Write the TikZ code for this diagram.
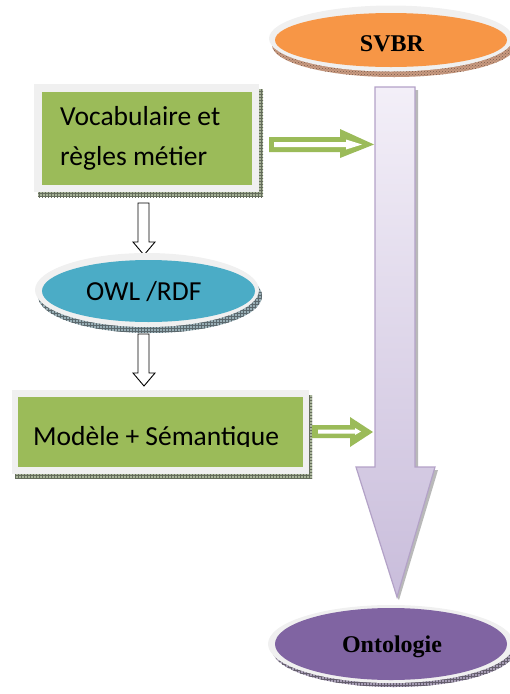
\documentclass[tikz,border=0pt]{standalone}
\usepackage{fontspec}
\setmainfont{Liberation Serif}
\newfontfamily\boxfont{Carlito}
\usetikzlibrary{shapes.geometric,patterns}

\definecolor{leafgreen}{HTML}{9BBB59}
\definecolor{orangefill}{HTML}{F79646}
\definecolor{tealfill}{HTML}{4BACC6}
\definecolor{plumfill}{HTML}{8064A2}
\definecolor{framegray}{HTML}{F0F0F0}
\definecolor{lilacline}{HTML}{B3A2C7}
\definecolor{lilactop}{HTML}{F3EFF8}
\definecolor{lilacbot}{HTML}{C9BDDB}
\definecolor{shadowgreen}{HTML}{A9B59A}
\definecolor{shadowbrown}{HTML}{C99A80}
\definecolor{shadowblue}{HTML}{98AEB5}
\definecolor{shadowplum}{HTML}{A79DB5}

\tikzset{
  frame/.style={fill=framegray},
  boxtext/.style={font=\boxfont\fontsize{27.5}{40}\selectfont, inner sep=0pt, anchor=base west},
  titletext/.style={font=\fontsize{24}{28}\selectfont\bfseries, inner sep=0pt, anchor=base},
  hollowarrow/.style={draw=black, fill=white, line width=0.9pt, line join=miter},
  greenarrow/.style={fill=leafgreen},
  stripe/.style={fill=white},
}

\begin{document}
\begin{tikzpicture}[x=1pt,y=-1pt]
\useasboundingbox (0,0) rectangle (510,694);

% ---- main flow: large lilac arrow (drawn first, behind everything)
\fill[gray!55] (378,90) -- (418,90) -- (418,470) -- (438,470) -- (399,600) -- (397,597) -- (435,467) -- (415,467) -- (415,87) -- cycle;
\path[draw=lilacline, line width=1.2pt, top color=lilactop, bottom color=lilacbot]
  (375,87) -- (415,87) -- (415,467) -- (435,467) -- (397,597) -- (356,467) -- (375,467) -- cycle;
\coordinate (flowtop) at (395,87);
\coordinate (flowtip) at (397,597);

% ---- SVBR ellipse
\fill[shadowbrown] (394,45) ellipse [x radius=122pt, y radius=32pt];
\fill[pattern=crosshatch dots, pattern color=shadowbrown!60!black] (394,45) ellipse [x radius=122pt, y radius=32pt];
\fill[frame] (391,38.5) ellipse [x radius=122pt, y radius=33pt];
\node[ellipse, fill=orangefill, minimum width=232pt, minimum height=54pt, inner sep=0pt] (svbr) at (391,40) {};
\node[titletext] (svbrlabel) at (392,51) {SVBR};

% ---- box: vocabulary and business rules
\fill[shadowgreen] (38,89) rectangle (263,197);
\fill[pattern=grid, pattern color=shadowgreen!60!black] (38,89) rectangle (263,197);
\fill[frame] (34,84) rectangle (259,192);
\node[rectangle, fill=leafgreen, minimum width=210pt, minimum height=93pt, inner sep=0pt] (vocab) at (147,138.5) {};
\node[boxtext] (vocab1) at (60,125) {Vocabulaire et};
\node[boxtext] (vocab2) at (60,165) {règles métier};

% green arrow from the vocabulary box into the flow
\fill[greenarrow] (269,137) -- (340,137) -- (340,129) -- (374,144.5) -- (340,158) -- (340,152) -- (269,152) -- cycle;
\fill[stripe] (274,142) -- (346,142) -- (346,139.5) -- (362,144.5) -- (346,149.5) -- (346,147) -- (274,147) -- cycle;

% hollow arrow: vocabulary -> OWL/RDF
\draw[hollowarrow] (138,203) -- (149,203) -- (149,242) -- (155,242) -- (144,255) -- (133,242) -- (138,242) -- cycle;

% ---- OWL/RDF ellipse
\fill[shadowblue] (150,296) ellipse [x radius=112pt, y radius=37pt];
\fill[pattern=grid, pattern color=shadowblue!60!black] (150,296) ellipse [x radius=112pt, y radius=37pt];
\fill[frame] (147,290) ellipse [x radius=112pt, y radius=37pt];
\node[ellipse, fill=tealfill, minimum width=213pt, minimum height=62pt, inner sep=0pt] (owl) at (148.5,291) {};
\node[boxtext] (owllabel) at (86,300) {OWL /RDF};

% hollow arrow: OWL/RDF -> model
\draw[hollowarrow] (138,334) -- (149,334) -- (149,373) -- (155,373) -- (144,386) -- (133,373) -- (138,373) -- cycle;

% ---- box: model + semantics
\fill[shadowgreen] (15,395) rectangle (312,478);
\fill[pattern=grid, pattern color=shadowgreen!60!black] (15,395) rectangle (312,478);
\fill[frame] (12,390) rectangle (309,474);
\node[rectangle, fill=leafgreen, minimum width=285pt, minimum height=70pt, inner sep=0pt] (model) at (160.5,432) {};
\begin{scope}
  \clip (18,397) rectangle (303,446);
  \node[boxtext] (modellabel) at (33,445) {Modèle + Sémantique};
\end{scope}

% green arrow from the model box into the flow
\fill[greenarrow] (312,425) -- (350,425) -- (350,417) -- (373,432) -- (350,447) -- (350,438) -- (312,438) -- cycle;
\fill[stripe] (318,429.5) -- (355,429.5) -- (355,428) -- (361,431.5) -- (355,435) -- (355,433.5) -- (318,433.5) -- cycle;

% ---- Ontologie ellipse
\fill[shadowplum] (394,649) ellipse [x radius=122pt, y radius=38pt];
\fill[pattern=grid, pattern color=shadowplum!60!black] (394,649) ellipse [x radius=122pt, y radius=38pt];
\fill[frame] (391,644) ellipse [x radius=123pt, y radius=39pt];
\node[ellipse, fill=plumfill, minimum width=232pt, minimum height=72pt, inner sep=0pt] (onto) at (391,644) {};
\node[titletext] (ontolabel) at (392,652) {Ontologie};

\end{tikzpicture}
\end{document}
